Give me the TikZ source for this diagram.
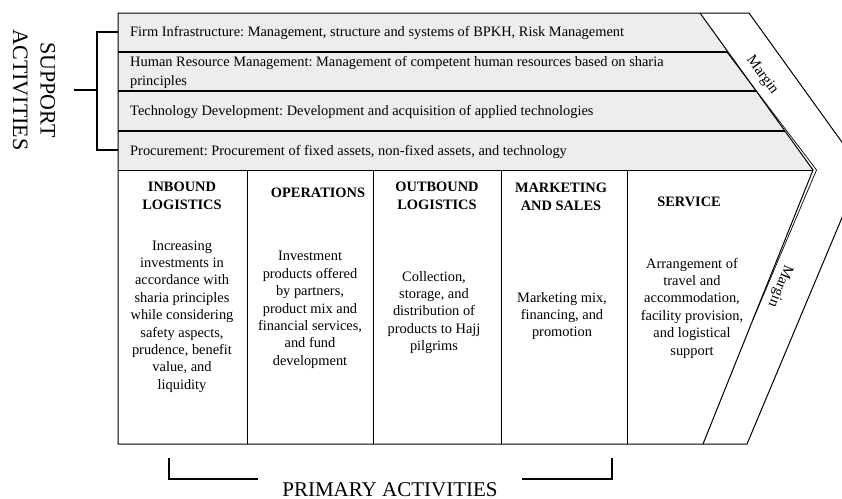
\documentclass[tikz,border=0pt]{standalone}
\usepackage{fontspec}
\setmainfont{Liberation Serif}
\frenchspacing
\begin{document}
\frenchspacing
\begin{tikzpicture}[x=1pt,y=-1pt,
  edge/.style={line width=1pt, draw=black},
  rowtxt/.style={anchor=west, inner sep=0pt, font=\fontsize{14.4}{18.5}\selectfont, align=left},
  head/.style={inner sep=0pt, align=center, font=\fontsize{14.4}{18}\selectfont\bfseries},
  body/.style={inner sep=0pt, align=center, font=\fontsize{14.4}{17.4}\selectfont},
  big/.style={inner sep=0pt, align=center, font=\fontsize{22}{27.5}\selectfont},
  marg/.style={inner sep=0pt, font=\fontsize{15}{17}\selectfont},
  brk/.style={line width=1.5pt}]
\useasboundingbox (0,0) rectangle (842,498);
\clip (0,0) rectangle (842,498);
% key points
\coordinate (s1) at (118,13);
\coordinate (s2) at (700,13);
\coordinate (tip) at (813,170);
\coordinate (s4) at (118,170);
\coordinate (pb) at (703,444);
\coordinate (pl) at (118,444);
\coordinate (m1) at (749,13);
\coordinate (mt) at (862,170);
\coordinate (m3) at (747,444);
% margin band
\draw[edge] (s2) -- (m1) -- (mt) -- (m3) -- (pb);
% support area
\fill[black!7] (s1) -- (s2) -- (tip) -- (s4) -- cycle;
\draw[edge] (s1) -- (s2) -- (tip) -- (pb) -- (pl) -- cycle;
\draw[edge] (s4) -- (tip);
\draw[line width=1.3pt] (118,52) -- (728.1,52);
\draw[line width=1.3pt] (118,91) -- (756.1,91);
\draw[line width=1.3pt] (118,131) -- (784.9,131);
% doubled inner edge
\draw[line width=0.7pt] (726,51) -- (816.5,170) -- (752.8,320);
% primary columns
\foreach \xx in {247,373,501,627} \draw[edge] (\xx,170) -- (\xx,444);
% support texts
\node[rowtxt] (fi) at (130,32.5) {Firm Infrastructure: Management, structure and systems of BPKH, Risk Management};
\node[rowtxt] (hr) at (130,72.5) {Human Resource Management: Management of competent human resources based on sharia\\principles};
\node[rowtxt] (td) at (130,112) {Technology Development: Development and acquisition of applied technologies};
\node[rowtxt] (pr) at (130,151.5) {Procurement: Procurement of fixed assets, non-fixed assets, and technology};
% headings
\node[head] (h1) at (182,196) {INBOUND\\LOGISTICS};
\node[head] (h2) at (318,193) {OPERATIONS};
\node[head] (h3) at (437,196) {OUTBOUND\\LOGISTICS};
\node[head] (h4) at (561,197) {MARKETING\\AND SALES};
\node[head] (h5) at (689,202) {SERVICE};
% bodies
\node[body] (b1) at (182,316.5) {Increasing\\investments in\\accordance with\\sharia principles\\while considering\\safety aspects,\\prudence, benefit\\value, and\\liquidity};
\node[body] (b2) at (310,310) {Investment\\products offered\\by partners,\\product mix and\\financial services,\\and fund\\development};
\node[body] (b3) at (434,312.5) {Collection,\\storage, and\\distribution of\\products to Hajj\\pilgrims};
\node[body] (b4) at (562,316) {Marketing mix,\\financing, and\\promotion};
\node[body] (b5) at (692,308) {Arrangement of\\travel and\\accommodation,\\facility provision,\\and logistical\\support};
% margin labels
\node[marg, rotate=-54] (mg1) at (762,75) {Margin};
\node[marg, rotate=-112] (mg2) at (780,286) {Margin};
% support bracket
\draw[brk] (118,32) -- (97,32) -- (97,150) -- (118,150);
\draw[brk] (97,90) -- (74,90);
\node[big, rotate=-90] (sup) at (34,90) {SUPPORT\\ACTIVITIES};
% primary bracket
\draw[brk] (169,458) -- (169,479) -- (258,479);
\draw[brk] (522,479) -- (612,479) -- (612,458);
\node[inner sep=0pt, font=\fontsize{21}{25}\selectfont] (prim) at (390,490) {PRIMARY ACTIVITIES};
\end{tikzpicture}
\end{document}
